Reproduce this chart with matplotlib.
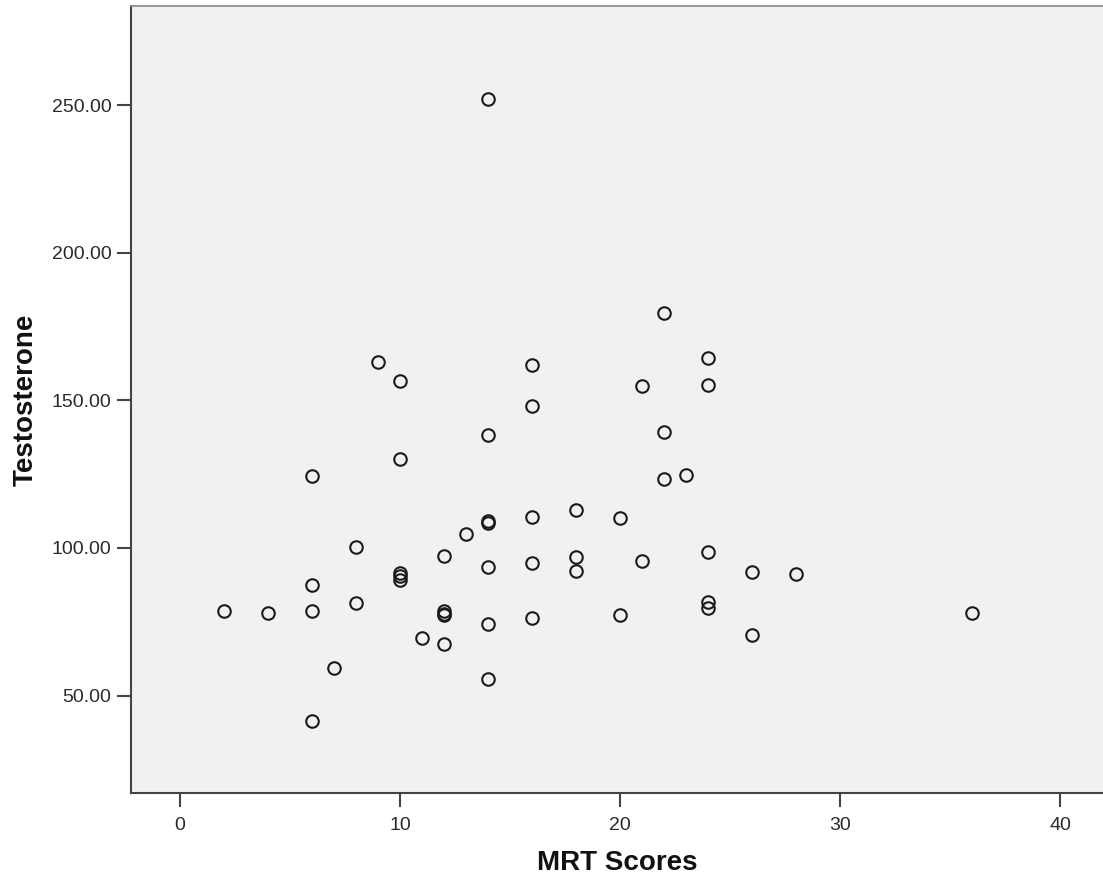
import matplotlib
matplotlib.use('Agg')
import matplotlib.pyplot as plt

plt.rcParams['font.family'] = ['Liberation Sans', 'DejaVu Sans']

# MRT scores and testosterone values
mrt_scores = [2, 4, 6, 6, 6, 6, 7, 8, 8, 9,
              10, 10, 10, 10, 10, 11, 12, 12, 12, 12,
              12, 13, 14, 14, 14, 14, 14, 14, 14, 16,
              16, 16, 16, 16, 18, 18, 18, 20, 20, 21,
              21, 22, 22, 22, 23, 24, 24, 24, 24, 24,
              26, 26, 28, 36]
testosterone = [78.8, 78.1, 78.8, 87.3, 124.5, 41.3, 59.3, 100.3, 81.5, 163.0,
                156.5, 130.3, 91.5, 90.4, 89.3, 69.5, 97.3, 78.6, 77.8, 77.2,
                67.5, 104.8, 252.0, 138.2, 109.3, 108.6, 93.7, 74.2, 55.6, 162.0,
                148.2, 110.6, 95.0, 76.2, 112.8, 97.0, 92.3, 110.1, 77.3, 155.0,
                95.7, 179.5, 139.2, 123.3, 124.7, 164.5, 155.2, 98.8, 81.8, 79.8,
                92.0, 70.6, 91.1, 78.1]

x_ticks = [0, 10, 20, 30, 40]
y_ticks = [50, 100, 150, 200, 250]

fig = plt.figure(figsize=(11.03, 8.81), dpi=100)
ax = fig.add_axes([0.1188, 0.0999, 0.8812, 0.8933])
ax.set_facecolor('#f0f1f1')

ax.plot(mrt_scores, testosterone, linestyle='none', marker='o', markersize=9,
        markerfacecolor='none', markeredgecolor='#1a1a1a', markeredgewidth=1.5)

ax.set_xlim(-2.23, 41.95)
ax.set_ylim(17.0, 283.6)
ax.set_xticks(x_ticks)
ax.set_yticks(y_ticks)
ax.set_yticklabels([f'{v:.2f}' for v in y_ticks])

ax.tick_params(axis='both', direction='out', length=10, width=1.5, color='#444444',
               labelsize=14, labelcolor='#2a2a2a', pad=4)
ax.tick_params(axis='x', pad=7.5)

ax.spines['right'].set_visible(False)
ax.spines['left'].set_color('#444444')
ax.spines['bottom'].set_color('#444444')
ax.spines['left'].set_linewidth(1.5)
ax.spines['bottom'].set_linewidth(1.5)
ax.spines['top'].set_color('#888888')
ax.spines['top'].set_linewidth(1.2)

ax.set_xlabel('MRT Scores', fontsize=20, fontweight='bold', color='#111111')
ax.set_ylabel('Testosterone', fontsize=20, fontweight='bold', color='#111111')
ax.xaxis.set_label_coords(0.5, -0.072)
ax.yaxis.set_label_coords(-0.095, 0.5)

plt.savefig('out.png', dpi=100)
